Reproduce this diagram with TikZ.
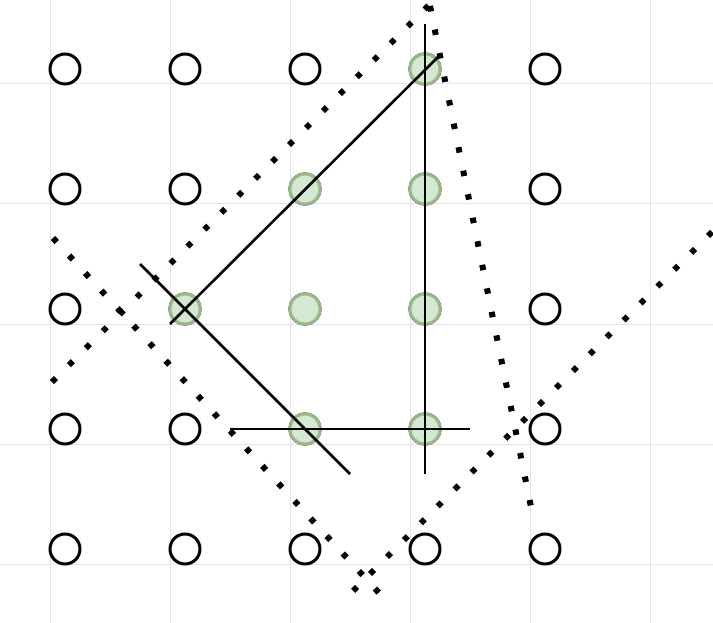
\documentclass[tikz,border=0pt]{standalone}
\usetikzlibrary{calc}
\definecolor{gridc}{HTML}{E4E4E4}
\definecolor{gfill}{HTML}{D5E8D4}
\definecolor{gline}{HTML}{9AB98A}
\tikzset{
  dot/.style={circle, draw=black, line width=3pt, fill=white, minimum size=30pt, inner sep=0pt},
  gdot/.style={circle, draw=gline, line width=3pt, fill=gfill, minimum size=30pt, inner sep=0pt},
  solidln/.style={line width=2.6pt, black},
  dotln/.style={line width=6pt, black, dash pattern=on 5.5pt off #1},
  dotln/.default=18.5pt,
  gridln/.style={gridc, line width=1pt}
}
\begin{document}
\begin{tikzpicture}[x=1pt,y=-1pt]
\useasboundingbox (0,0) rectangle (713,623);
\fill[white] (0,0) rectangle (713,623);
% grid
\foreach \gx in {50,170,290,410,530,650} \draw[gridln] (\gx,0) -- (\gx,623);
\foreach \gy in {84,204,324,444,564} \draw[gridln] (0,\gy) -- (713,\gy);
% circles
\foreach \i/\cx in {1/65,2/185,3/305,4/425,5/545}
  \foreach \j/\cy in {1/69,2/189,3/309,4/429,5/549}
    \node[dot] (c\i\j) at (\cx,\cy) {};
\foreach \n in {c41,c32,c42,c23,c33,c43,c34,c44}
  \node[gdot] at (\n) {};
% solid lines
\coordinate (s1a) at (170,324); \coordinate (s1b) at (441,54);
\coordinate (s2a) at (425,24);  \coordinate (s2b) at (425,474);
\coordinate (s3a) at (140,264); \coordinate (s3b) at (350,474);
\coordinate (s4a) at (230,429); \coordinate (s4b) at (470,429);
\draw[solidln] (s1a) -- (s1b);
\draw[solidln] (s2a) -- (s2b);
\draw[solidln] (s3a) -- (s3b);
\draw[solidln] (s4a) -- (s4b);
% dotted lines
\coordinate (dA1) at (52,382);  \coordinate (dA2) at (429,5);
\coordinate (dB1) at (53,238);  \coordinate (dB2) at (380,594);
\coordinate (dC1) at (712,232); \coordinate (dC2) at (350,594);
\coordinate (dD1) at (430,6);   \coordinate (dD2) at (531,507);
\draw[dotln=18.45pt] (dA1) -- (dA2);
\draw[dotln=18.3pt] (dB1) -- (dB2);
\draw[dotln=18.4pt] (dC1) -- (dC2);
\draw[dotln] (dD1) -- (dD2);
\end{tikzpicture}
\end{document}
